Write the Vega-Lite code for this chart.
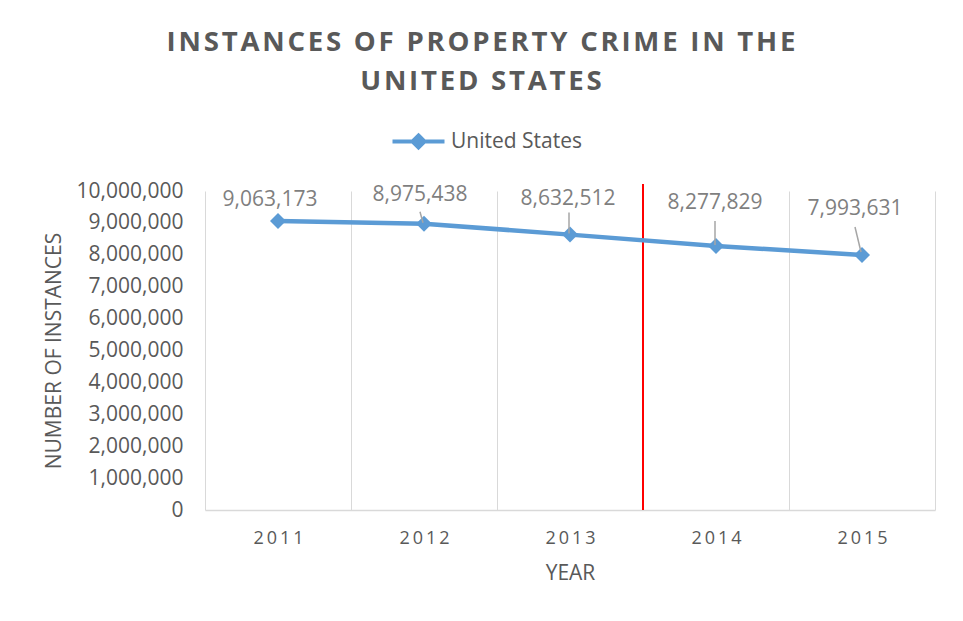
{
  "$schema": "https://vega.github.io/schema/vega-lite/v6.json",
  "width": 730,
  "height": 319,
  "autosize": "none",
  "padding": {"left": 205, "top": 191, "right": 28, "bottom": 111},
  "background": "white",
  "title": {
    "text": {"expr": "[join(split('INSTANCES OF PROPERTY CRIME IN THE',''),'\u200a'), join(split('UNITED STATES',''),'\u200a')]"},
    "anchor": "middle",
    "frame": "group",
    "dx": -89,
    "font": "Open Sans",
    "fontSize": 27.6,
    "fontWeight": "bold",
    "color": "#595959",
    "lineHeight": 39,
    "offset": 35
  },
  "config": {
    "view": {"stroke": null},
    "font": "Open Sans"
  },
  "data": {
    "values": [
      {"year": "2011", "instances": 9063173},
      {"year": "2012", "instances": 8975438},
      {"year": "2013", "instances": 8632512},
      {"year": "2014", "instances": 8277829},
      {"year": "2015", "instances": 7993631}
    ]
  },
  "encoding": {
    "x": {
      "field": "year",
      "type": "ordinal",
      "bandPosition": 0.5,
      "scale": {"type": "band", "paddingInner": 0, "paddingOuter": 0},
      "axis": {
        "title": "YEAR",
        "titleFont": "Open Sans",
        "titleFontSize": 21,
        "titleFontWeight": "normal",
        "titleColor": "#595959",
        "titlePadding": 15,
        "labelFont": "Open Sans",
        "labelFontSize": 18,
        "labelColor": "#595959",
        "labelAngle": 0,
        "labelPadding": 19,
        "labelExpr": "join(split(datum.label,''),'\u2009')",
        "tickBand": "extent",
        "ticks": false,
        "grid": true,
        "gridColor": "#d9d9d9",
        "gridWidth": 1,
        "domainColor": "#d9d9d9",
        "domainWidth": 1.5
      }
    },
    "y": {
      "field": "instances",
      "type": "quantitative",
      "scale": {"domain": [0, 10000000], "nice": false},
      "axis": {
        "title": "NUMBER OF INSTANCES",
        "titleFont": "Open Sans",
        "titleFontSize": 21,
        "titleFontWeight": "normal",
        "titleColor": "#595959",
        "titlePadding": 12,
        "labelFont": "Open Sans",
        "labelFontSize": 21,
        "labelColor": "#595959",
        "labelPadding": 22,
        "values": [0, 1000000, 2000000, 3000000, 4000000, 5000000, 6000000, 7000000, 8000000, 9000000, 10000000],
        "format": ",d",
        "grid": false,
        "ticks": false,
        "domain": false
      }
    }
  },
  "layer": [
    {
      "mark": {"type": "rule", "color": "#ff0000", "strokeWidth": 1.5},
      "encoding": {
        "x": {"datum": "2014", "bandPosition": 0},
        "y": {"datum": 0},
        "y2": {"datum": 10220000}
      }
    },
    {
      "mark": {"type": "line", "color": "#5b9bd5", "strokeWidth": 4.5},
      "encoding": {
        "color": {"datum": "United States", "type": "nominal", "scale": {"range": ["#5b9bd5"]},
          "legend": {
            "title": null,
            "orient": "none",
            "legendX": 203,
            "legendY": -60,
            "padding": 0,
            "symbolType": "M-5.2,0H5.2M0,-1.2L1.2,0L0,1.2L-1.2,0Z",
            "symbolSize": 100,
            "symbolStrokeWidth": 4,
            "symbolFillColor": "#5b9bd5",
            "symbolStrokeColor": "#5b9bd5",
            "labelOffset": 22,
            "labelFont": "Open Sans",
            "labelFontSize": 21,
            "labelColor": "#595959"
          }
        }
      }
    },
    {
      "mark": {"type": "point", "shape": "diamond", "filled": true, "size": 256, "color": "#5b9bd5", "opacity": 1}
    },
    {
      "transform": [{"filter": "datum.year == '2012'"}],
      "mark": {"type": "rule", "color": "#a6a6a6", "strokeWidth": 1.5, "xOffset": -4, "yOffset": -12, "x2Offset": -1, "y2Offset": -1},
      "encoding": {"x2": {"field": "year", "bandPosition": 0.5}, "y2": {"field": "instances"}}
    },
    {
      "transform": [{"filter": "datum.year == '2013'"}],
      "mark": {"type": "rule", "color": "#a6a6a6", "strokeWidth": 1.5, "xOffset": -1, "yOffset": -22, "x2Offset": -1, "y2Offset": -1},
      "encoding": {"x2": {"field": "year", "bandPosition": 0.5}, "y2": {"field": "instances"}}
    },
    {
      "transform": [{"filter": "datum.year == '2014'"}],
      "mark": {"type": "rule", "color": "#a6a6a6", "strokeWidth": 1.5, "xOffset": -1, "yOffset": -25, "x2Offset": -1, "y2Offset": -1},
      "encoding": {"x2": {"field": "year", "bandPosition": 0.5}, "y2": {"field": "instances"}}
    },
    {
      "transform": [{"filter": "datum.year == '2015'"}],
      "mark": {"type": "rule", "color": "#a6a6a6", "strokeWidth": 1.5, "xOffset": -7, "yOffset": -28, "x2Offset": -1, "y2Offset": -3},
      "encoding": {"x2": {"field": "year", "bandPosition": 0.5}, "y2": {"field": "instances"}}
    },
    {
      "transform": [{"filter": "datum.year == '2011'"}],
      "mark": {"type": "text", "font": "Open Sans", "fontSize": 21, "color": "#7f7f7f", "baseline": "middle", "dx": -8, "dy": -21},
      "encoding": {"text": {"field": "instances", "type": "quantitative", "format": ",d"}}
    },
    {
      "transform": [{"filter": "datum.year == '2012'"}],
      "mark": {"type": "text", "font": "Open Sans", "fontSize": 21, "color": "#7f7f7f", "baseline": "middle", "dx": -4, "dy": -29},
      "encoding": {"text": {"field": "instances", "type": "quantitative", "format": ",d"}}
    },
    {
      "transform": [{"filter": "datum.year == '2013'"}],
      "mark": {"type": "text", "font": "Open Sans", "fontSize": 21, "color": "#7f7f7f", "baseline": "middle", "dx": -2, "dy": -36},
      "encoding": {"text": {"field": "instances", "type": "quantitative", "format": ",d"}}
    },
    {
      "transform": [{"filter": "datum.year == '2014'"}],
      "mark": {"type": "text", "font": "Open Sans", "fontSize": 21, "color": "#7f7f7f", "baseline": "middle", "dx": -1, "dy": -43},
      "encoding": {"text": {"field": "instances", "type": "quantitative", "format": ",d"}}
    },
    {
      "transform": [{"filter": "datum.year == '2015'"}],
      "mark": {"type": "text", "font": "Open Sans", "fontSize": 21, "color": "#7f7f7f", "baseline": "middle", "dx": -7, "dy": -46},
      "encoding": {"text": {"field": "instances", "type": "quantitative", "format": ",d"}}
    }
  ]
}
